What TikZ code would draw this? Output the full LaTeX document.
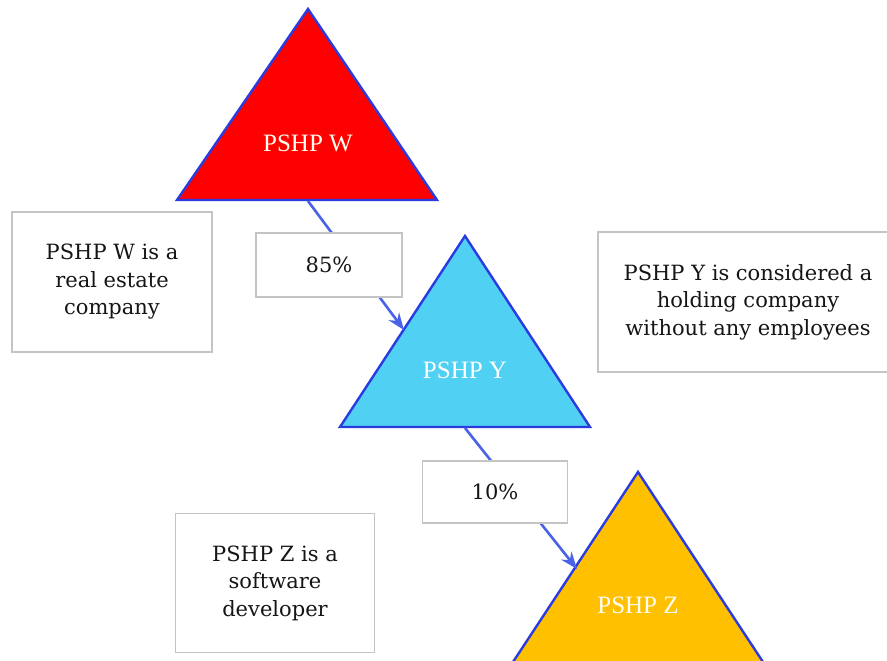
\documentclass[tikz,border=0pt]{standalone}
\usepackage{fontspec}
\setmainfont{DejaVu Serif}
\newfontfamily\trifont{Liberation Serif}
\usetikzlibrary{arrows.meta}
\definecolor{edgeblue}{HTML}{2A3BE0}
\definecolor{connblue}{HTML}{4A62E8}
\definecolor{triRed}{HTML}{FF0000}
\definecolor{triCyan}{HTML}{50D0F2}
\definecolor{triGold}{HTML}{FFC000}
\definecolor{boxgray}{HTML}{C4C4C4}
\definecolor{txtdark}{HTML}{151515}
\tikzset{
  tri/.style={draw=edgeblue, line width=2.4pt, line join=miter},
  trilabel/.style={font=\trifont\fontsize{25}{28}\selectfont, text=#1, inner sep=0pt},
  infobox/.style={draw=boxgray, line width=1.8pt, fill=white, align=center,
    font=\fontsize{21}{27.5}\selectfont, text=txtdark, inner sep=0pt},
  pctbox/.style={infobox},
  conn/.style={draw=connblue, line width=2.6pt, -{Stealth[length=17pt,width=13pt]}}
}
\begin{document}
\begin{tikzpicture}[x=1pt,y=-1pt]
\useasboundingbox (0,0) rectangle (887,661);
\clip (0,0) rectangle (887,661);
\fill[white] (0,0) rectangle (887,661);
% triangles
\path[tri, fill=triRed] (308,9) -- (437,200) -- (177,200) -- cycle;
\path[tri, fill=triCyan] (465,236) -- (590,427) -- (340,427) -- cycle;
\path[tri, fill=triGold] (638,472) -- (765,665) -- (511,665) -- cycle;
\node[trilabel=white!94!yellow] (wlab) at (308,143) {PSHP W};
\node[trilabel=white] (ylab) at (465,370) {PSHP Y};
\node[trilabel=white!96!yellow] (zlab) at (638,605) {PSHP Z};
% connector endpoints
\coordinate (wbot) at (308,201);
\coordinate (yhit) at (404,330);
\coordinate (ybot) at (465,428);
\coordinate (zhit) at (577,569);
\draw[conn] (wbot) -- (yhit);
\draw[conn] (ybot) -- (zhit);
% percentage boxes
\node[pctbox, minimum width=146pt, minimum height=64pt] (p85) at (329,265) {85\%};
\node[pctbox, minimum width=145pt, minimum height=62pt] (p10) at (495,492) {10\%};
% info boxes
\node[infobox, minimum width=200pt, minimum height=140pt] (winfo) at (112,282)
  {PSHP W is a\\real estate\\company};
\node[infobox, minimum width=300pt, minimum height=140pt] (yinfo) at (748,302)
  {PSHP Y is considered a\\holding company\\without any employees};
\node[infobox, minimum width=199pt, minimum height=139pt] (zinfo) at (275,583)
  {PSHP Z is a\\software\\developer};
\end{tikzpicture}
\end{document}
